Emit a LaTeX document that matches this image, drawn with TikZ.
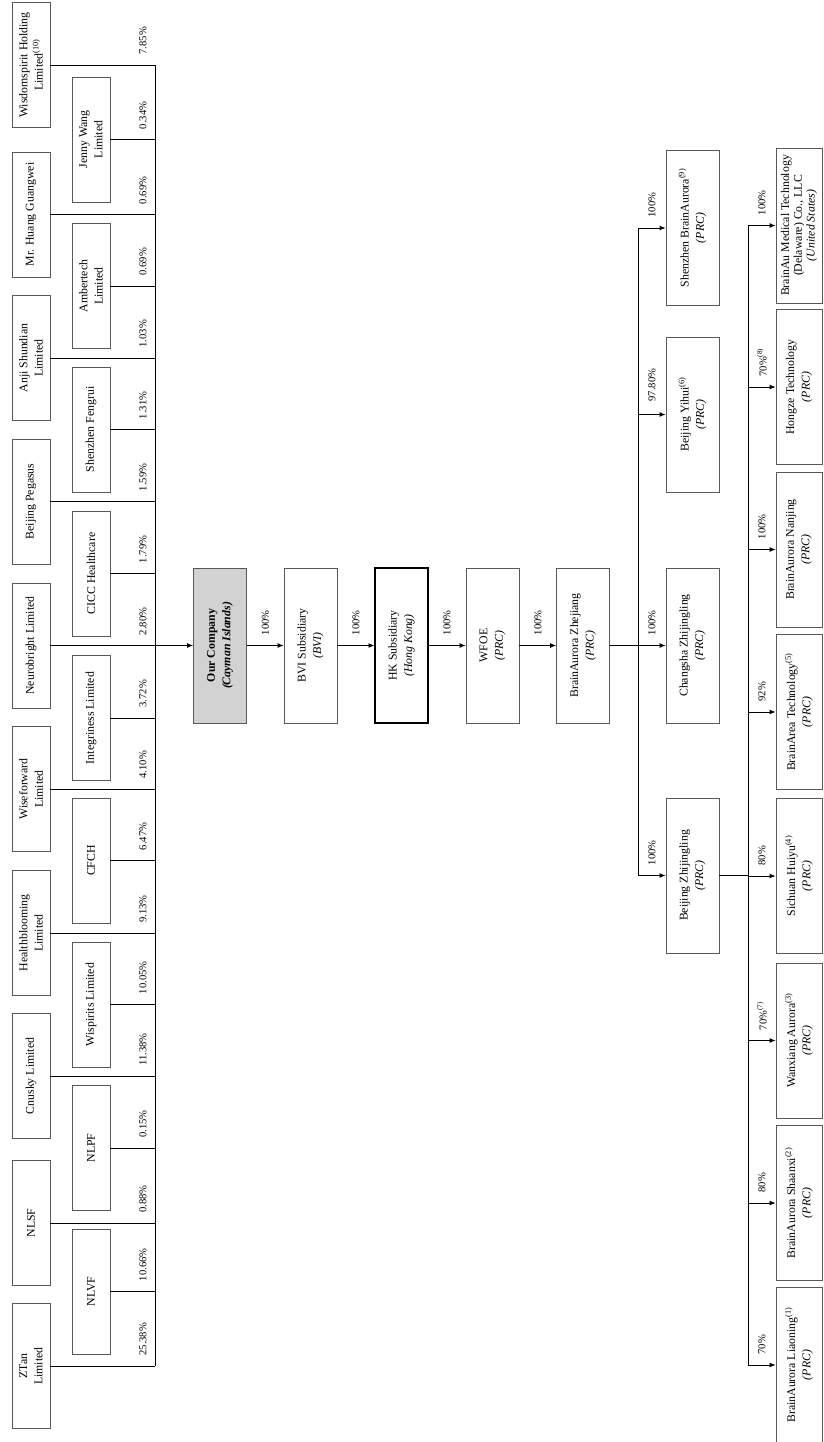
\documentclass[tikz,border=0pt]{standalone}
\usepackage{fontspec}
\setmainfont{Liberation Serif}
\usetikzlibrary{arrows.meta}

\begin{document}
\begin{tikzpicture}[x=0.847pt, y=-0.847pt,
    box/.style={draw=black!65, line width=0.6pt, rotate=90, align=center, inner sep=1pt,
        font=\fontsize{10}{13}\selectfont},
    holder/.style={box, minimum width=105.9pt, minimum height=32.2pt},
    entity/.style={box, minimum width=131.3pt, minimum height=44.9pt},
    leaf/.style={box, minimum width=131.3pt, minimum height=39pt},
    pct/.style={rotate=90, anchor=west, inner sep=1pt, font=\fontsize{9}{10}\selectfont},
    link/.style={line width=0.7pt},
    arr/.style={link, -{Latex[length=5pt,width=4pt]}}]
    \useasboundingbox (0,0) rectangle (823,1442);

    % shareholders
    \node[holder] (ws) at (31,65) {Wisdomspirit Holding\\Limited\textsuperscript{(10)}};
    \node[holder] (hg) at (31,214.5) {Mr. Huang Guangwei};
    \node[holder] (as) at (31,358) {Anji Shundian\\Limited};
    \node[holder] (bp) at (31,501.5) {Beijing Pegasus};
    \node[holder] (nb) at (31,645.5) {Neurobright Limited};
    \node[holder] (wf) at (31,789) {Wiseforward\\Limited};
    \node[holder] (hb) at (31,933) {Healthblooming\\Limited};
    \node[holder] (cn) at (31,1076) {Cnusky Limited};
    \node[holder] (ns) at (31,1223) {NLSF};
    \node[holder] (zt) at (31,1366) {ZTan\\Limited};

    \node[holder] (jw) at (91,139.5) {Jenny Wang\\Limited};
    \node[holder] (at) at (91,286) {Ambertech\\Limited};
    \node[holder] (sf) at (91,429.5) {Shenzhen Fengrui};
    \node[holder] (cc) at (91,573.5) {CICC Healthcare};
    \node[holder] (ig) at (91,718) {Integriness Limited};
    \node[holder] (cf) at (91,860.5) {CFCH};
    \node[holder] (wp) at (91,1004.5) {Wispirits Limited};
    \node[holder] (np) at (91,1148) {NLPF};
    \node[holder] (nv) at (91,1291.5) {NLVF};

    \coordinate (b1) at (155,0);
    \draw[link] (ws.south -| b1) -- (zt.south -| b1);
    \draw[link] (ws.south) -- (ws.south -| b1);
    \draw[link] (hg.south) -- (hg.south -| b1);
    \draw[link] (as.south) -- (as.south -| b1);
    \draw[link] (bp.south) -- (bp.south -| b1);
    \draw[link] (nb.south) -- (nb.south -| b1);
    \draw[link] (wf.south) -- (wf.south -| b1);
    \draw[link] (hb.south) -- (hb.south -| b1);
    \draw[link] (cn.south) -- (cn.south -| b1);
    \draw[link] (ns.south) -- (ns.south -| b1);
    \draw[link] (zt.south) -- (zt.south -| b1);
    \draw[link] (jw.south) -- (jw.south -| b1);
    \draw[link] (at.south) -- (at.south -| b1);
    \draw[link] (sf.south) -- (sf.south -| b1);
    \draw[link] (cc.south) -- (cc.south -| b1);
    \draw[link] (ig.south) -- (ig.south -| b1);
    \draw[link] (cf.south) -- (cf.south -| b1);
    \draw[link] (wp.south) -- (wp.south -| b1);
    \draw[link] (np.south) -- (np.south -| b1);
    \draw[link] (nv.south) -- (nv.south -| b1);

    \node[pct] (p1) at (143,56) {7.85\%};
    \node[pct] (p2) at (143,130.5) {0.34\%};
    \node[pct] (p3) at (143,205.5) {0.69\%};
    \node[pct] (p4) at (143,277) {0.69\%};
    \node[pct] (p5) at (143,349) {1.03\%};
    \node[pct] (p6) at (143,420.5) {1.31\%};
    \node[pct] (p7) at (143,492.5) {1.59\%};
    \node[pct] (p8) at (143,564.5) {1.79\%};
    \node[pct] (p9) at (143,636.5) {2.80\%};
    \node[pct] (p10) at (143,709) {3.72\%};
    \node[pct] (p11) at (143,780) {4.10\%};
    \node[pct] (p12) at (143,851.5) {6.47\%};
    \node[pct] (p13) at (143,924) {9.13\%};
    \node[pct] (p14) at (143,995.5) {10.05\%};
    \node[pct] (p15) at (143,1067) {11.38\%};
    \node[pct] (p16) at (143,1139) {0.15\%};
    \node[pct] (p17) at (143,1214) {0.88\%};
    \node[pct] (p18) at (143,1282.5) {10.66\%};
    \node[pct] (p19) at (143,1357) {25.38\%};

    % main chain
    \node[entity, fill=gray!35] (oc) at (220,645.5) {\textbf{Our Company}\\\textbf{\textit{(Cayman Islands)}}};
    \node[entity] (bvi) at (310.5,645.5) {BVI Subsidiary\\\textit{(BVI)}};
    \node[entity, draw=black, line width=0.9pt] (hk) at (401.5,645.5) {HK Subsidiary\\\textit{(Hong Kong)}};
    \node[entity] (wfoe) at (492.5,645.5) {WFOE\\\textit{(PRC)}};
    \node[entity] (bz) at (583,645.5) {BrainAurora Zhejiang\\\textit{(PRC)}};

    \draw[arr] (nb.south -| b1) -- (oc.north);
    \draw[arr] (oc.south) -- (bvi.north);
    \draw[arr] (bvi.south) -- (hk.north);
    \draw[arr] (hk.south) -- (wfoe.north);
    \draw[arr] (wfoe.south) -- (bz.north);
    \node[pct] (q1) at (265.5,636.5) {100\%};
    \node[pct] (q2) at (356,636.5) {100\%};
    \node[pct] (q3) at (447,636.5) {100\%};
    \node[pct] (q4) at (538,636.5) {100\%};

    % subsidiaries of BrainAurora Zhejiang
    \node[entity] (sz) at (692.5,228) {Shenzhen BrainAurora\textsuperscript{(9)}\\\textit{(PRC)}};
    \node[entity] (yh) at (692.5,414.5) {Beijing Yihui\textsuperscript{(6)}\\\textit{(PRC)}};
    \node[entity] (cs) at (692.5,645.5) {Changsha Zhijingling\\\textit{(PRC)}};
    \node[entity] (bj) at (692.5,875.5) {Beijing Zhijingling\\\textit{(PRC)}};

    \coordinate (b2) at (638,0);
    \draw[link] (sz.north -| b2) -- (bj.north -| b2);
    \draw[link] (bz.south) -- (bz.south -| b2);
    \draw[arr] (sz.north -| b2) -- (sz.north);
    \draw[arr] (yh.north -| b2) -- (yh.north);
    \draw[arr] (cs.north -| b2) -- (cs.north);
    \draw[arr] (bj.north -| b2) -- (bj.north);
    \node[pct] (r1) at (652,219) {100\%};
    \node[pct] (r2) at (652,403) {97.80\%};
    \node[pct] (r3) at (652,636.5) {100\%};
    \node[pct] (r4) at (652,866.5) {100\%};

    % subsidiaries of Beijing Zhijingling
    \node[leaf, font=\fontsize{10}{10.8}\selectfont] (ba) at (799,225.5) {BrainAu Medical Technology\\(Delaware) Co., LLC\\\textit{(United States)}};
    \node[leaf] (hz) at (799,387) {Hongze Technology\\\textit{(PRC)}};
    \node[leaf] (nj) at (799,549.5) {BrainAurora Nanjing\\\textit{(PRC)}};
    \node[leaf] (bt) at (799,712) {BrainArea Technology\textsuperscript{(5)}\\\textit{(PRC)}};
    \node[leaf] (sc) at (799,876) {Sichuan Huiyu\textsuperscript{(4)}\\\textit{(PRC)}};
    \node[leaf] (wx) at (799,1040.5) {Wanxiang Aurora\textsuperscript{(3)}\\\textit{(PRC)}};
    \node[leaf] (sx) at (799,1203) {BrainAurora Shaanxi\textsuperscript{(2)}\\\textit{(PRC)}};
    \node[leaf] (ln) at (799,1365) {BrainAurora Liaoning\textsuperscript{(1)}\\\textit{(PRC)}};

    \coordinate (b3) at (748,0);
    \draw[link] (ba.north -| b3) -- (ln.north -| b3);
    \draw[link] (bj.south) -- (bj.south -| b3);
    \draw[arr] (ba.north -| b3) -- (ba.north);
    \draw[arr] (hz.north -| b3) -- (hz.north);
    \draw[arr] (nj.north -| b3) -- (nj.north);
    \draw[arr] (bt.north -| b3) -- (bt.north);
    \draw[arr] (sc.north -| b3) -- (sc.north);
    \draw[arr] (wx.north -| b3) -- (wx.north);
    \draw[arr] (sx.north -| b3) -- (sx.north);
    \draw[arr] (ln.north -| b3) -- (ln.north);
    \node[pct] (s1) at (762,216.5) {100\%};
    \node[pct] (s2) at (762,378) {70\%\textsuperscript{(8)}};
    \node[pct] (s3) at (762,540.5) {100\%};
    \node[pct] (s4) at (762,703) {92\%};
    \node[pct] (s5) at (762,867) {80\%};
    \node[pct] (s6) at (762,1031.5) {70\%\textsuperscript{(7)}};
    \node[pct] (s7) at (762,1194) {80\%};
    \node[pct] (s8) at (762,1356) {70\%};
\end{tikzpicture}
\end{document}
